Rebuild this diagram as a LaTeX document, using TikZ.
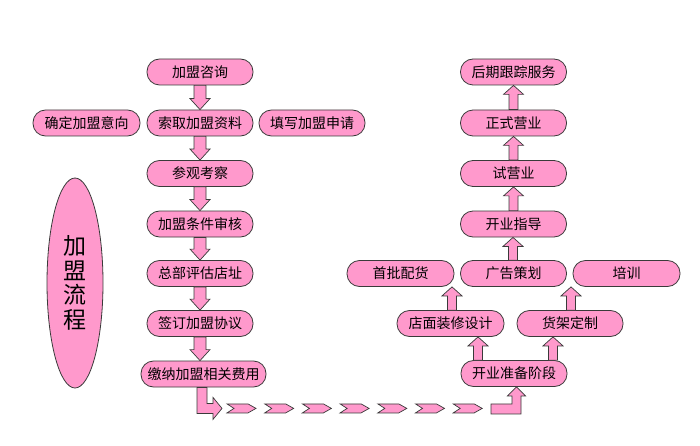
\documentclass[tikz,border=0pt]{standalone}
\usepackage{fontspec}
\newfontfamily\cjk{Noto Sans CJK SC}
\usetikzlibrary{calc,shapes.geometric}
\definecolor{pinkfill}{HTML}{FF99CC}
\definecolor{edgegray}{HTML}{3A3A3A}
\tikzset{
  box/.style={draw=edgegray, fill=pinkfill, line width=0.8pt, rectangle, rounded corners=12.5pt,
    minimum width=106pt, minimum height=26pt, inner sep=0pt,
    font=\cjk\fontsize{14}{16}\selectfont},
  arr/.style={draw=edgegray, fill=pinkfill, line width=0.7pt, line join=miter},
  bigell/.style={draw=edgegray, fill=pinkfill, line width=0.8pt, ellipse,
    minimum width=56pt, minimum height=210pt, inner sep=0pt, align=center,
    font=\cjk\fontsize{23}{24.5}\selectfont}
}
\newcommand\downarr[2]{\path[arr] let \p1=(#1),\p2=(#2) in
  (\x1-6pt,\y1) -- (\x1+6pt,\y1) -- (\x1+6pt,\y2+11pt) -- (\x1+10pt,\y2+11pt) -- (\x1,\y2)
  -- (\x1-10pt,\y2+11pt) -- (\x1-6pt,\y2+11pt) -- cycle;}
\newcommand\uparr[2]{\path[arr] let \p1=(#1),\p2=(#2) in
  (\x1-4.5pt,\y1) -- (\x1+4.5pt,\y1) -- (\x1+4.5pt,\y2-9pt) -- (\x1+10pt,\y2-9pt) -- (\x1,\y2)
  -- (\x1-10pt,\y2-9pt) -- (\x1-4.5pt,\y2-9pt) -- cycle;}
\begin{document}
\begin{tikzpicture}[x=1pt,y=-1pt]
\fill[white] (0,0) rectangle (700,446);
\useasboundingbox (0,0) rectangle (700,446);

% title ellipse
\node[bigell] (title) at (75,283) {加\\盟\\流\\程};

% left column
\node[box] (a1) at (200,72) {加盟咨询};
\node[box] (a2) at (200,123) {索取加盟资料};
\node[box, minimum width=107pt] (al) at (86.5,123) {确定加盟意向};
\node[box] (ar) at (312,123) {填写加盟申请};
\node[box] (a3) at (200,173.5) {参观考察};
\node[box] (a4) at (200,224) {加盟条件审核};
\node[box] (a5) at (200,273.5) {总部评估店址};
\node[box] (a6) at (200,323.5) {签订加盟协议};
\node[box, minimum width=125pt] (a7) at (203.5,374) {缴纳加盟相关费用};

% right column
\node[box] (b1) at (513.5,72) {后期跟踪服务};
\node[box] (b2) at (513.5,123) {正式营业};
\node[box] (b3) at (513.5,173.5) {试营业};
\node[box] (b4) at (513.5,224) {开业指导};
\node[box, minimum width=107pt] (c1) at (400.5,273.5) {首批配货};
\node[box] (c2) at (513.5,273.5) {广告策划};
\node[box, minimum width=107pt] (c3) at (626.5,273.5) {培训};
\node[box, minimum width=107pt] (d1) at (450.5,323.5) {店面装修设计};
\node[box] (d2) at (570,323.5) {货架定制};
\node[box] (kz) at (514,373.5) {开业准备阶段};

% left column arrows
\downarr{a1.south}{a2.north}
\downarr{a2.south}{a3.north}
\downarr{a3.south}{a4.north}
\downarr{a4.south}{a5.north}
\downarr{a5.south}{a6.north}
\downarr{a6.south}{[xshift=3.5pt]a7.north}

% right column arrows
\uparr{b4.north}{b3.south}
\uparr{b3.north}{b2.south}
\uparr{b2.north}{b1.south}
\uparr{[xshift=-0.5pt]c2.north}{b4.south}
\uparr{[xshift=1.5pt]d1.north}{c1.south}
\uparr{[xshift=1pt]d2.north}{[xshift=57.5pt]c2.south}
\uparr{[xshift=-36pt]kz.north}{d1.south}
\uparr{[xshift=39pt]kz.north}{d2.south}

% bent arrow leaving the left column
\path[arr] let \p1=([xshift=-1.5pt]a7.south) in
  (\x1-5pt,\y1) -- (\x1+5pt,\y1) -- (\x1+5pt,\y1-16pt) -- (\x1+11pt,\y1-16pt)
  -- (\x1+11pt,\y1-10pt) -- (\x1+20pt,\y1-21pt) -- (\x1+11pt,\y1-32pt)
  -- (\x1+11pt,\y1-26pt) -- (\x1-5pt,\y1-26pt) -- cycle
  coordinate (c0) at (\x1+20pt,\y1-21pt);

% chevrons
\foreach \i in {0,...,6}{
  \path[arr] let \p1=(c0) in
    (\x1+5pt+\i*37.7pt,\y1+4.5pt) -- (\x1+26pt+\i*37.7pt,\y1+4.5pt)
    -- (\x1+34pt+\i*37.7pt,\y1) -- (\x1+26pt+\i*37.7pt,\y1-4.5pt)
    -- (\x1+5pt+\i*37.7pt,\y1-4.5pt) -- (\x1+12pt+\i*37.7pt,\y1) -- cycle;
}

% bent arrow entering the right column
\path[arr] let \p1=([xshift=2.5pt]kz.south) in
  (\x1-25.5pt,\y1-27pt) -- (\x1+4.5pt,\y1-27pt) -- (\x1+4.5pt,\y1-9pt)
  -- (\x1+9pt,\y1-9pt) -- (\x1,\y1) -- (\x1-9pt,\y1-9pt) -- (\x1-4.5pt,\y1-9pt)
  -- (\x1-4.5pt,\y1-17pt) -- (\x1-25.5pt,\y1-17pt) -- cycle;
\end{tikzpicture}
\end{document}
